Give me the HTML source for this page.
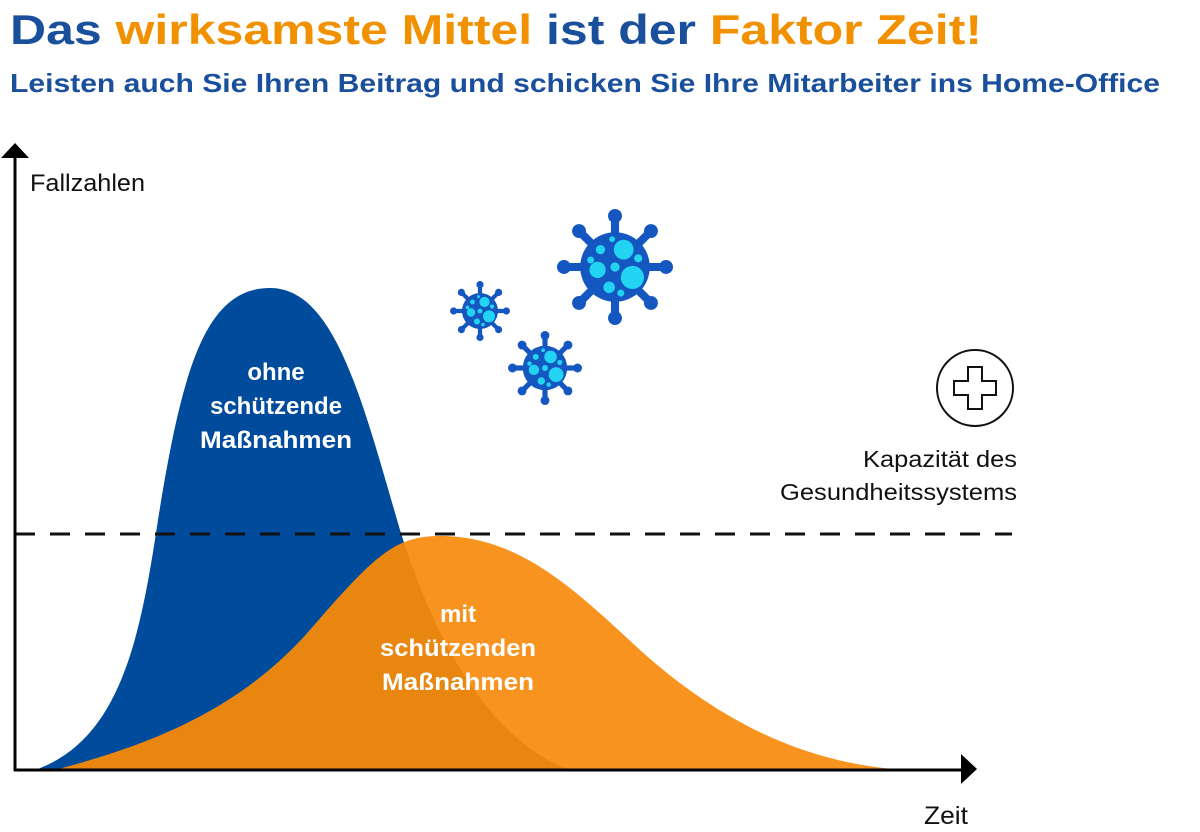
<!DOCTYPE html>
<html><head><meta charset="utf-8"><style>
html,body{margin:0;padding:0;background:#fff;width:1200px;height:832px;overflow:hidden}
svg{display:block}
</style></head><body>
<svg width="1200" height="832" viewBox="0 0 1200 832" xmlns="http://www.w3.org/2000/svg" font-family="'Liberation Sans', sans-serif">
<defs>
<symbol id="v" viewBox="-1 -1 2 2" overflow="visible">
<g fill="#1557C0" stroke="#1557C0">
<g stroke-width="0.14" stroke-linecap="round">
<line x1="0" y1="0" x2="0" y2="-0.86"/>
<line x1="0" y1="0" x2="0.61" y2="-0.61"/>
<line x1="0" y1="0" x2="0.86" y2="0"/>
<line x1="0" y1="0" x2="0.61" y2="0.61"/>
<line x1="0" y1="0" x2="0" y2="0.86"/>
<line x1="0" y1="0" x2="-0.61" y2="0.61"/>
<line x1="0" y1="0" x2="-0.86" y2="0"/>
<line x1="0" y1="0" x2="-0.61" y2="-0.61"/>
</g>
<g stroke="none">
<circle r="0.6"/>
<circle cx="0" cy="-0.88" r="0.12"/><circle cx="0.62" cy="-0.62" r="0.12"/>
<circle cx="0.88" cy="0" r="0.12"/><circle cx="0.62" cy="0.62" r="0.12"/>
<circle cx="0" cy="0.88" r="0.12"/><circle cx="-0.62" cy="0.62" r="0.12"/>
<circle cx="-0.88" cy="0" r="0.12"/><circle cx="-0.62" cy="-0.62" r="0.12"/>
</g>
</g>
<g fill="#22D4F2">
<circle cx="0.15" cy="-0.3" r="0.17"/><circle cx="0.3" cy="0.18" r="0.2"/>
<circle cx="-0.3" cy="0.05" r="0.14"/><circle cx="-0.1" cy="0.35" r="0.1"/>
<circle cx="-0.25" cy="-0.3" r="0.08"/><circle cx="0.0" cy="0.0" r="0.08"/>
<circle cx="0.4" cy="-0.15" r="0.07"/><circle cx="-0.42" cy="-0.12" r="0.06"/>
<circle cx="0.1" cy="0.45" r="0.06"/><circle cx="-0.05" cy="-0.48" r="0.05"/>
</g>
</symbol>
<clipPath id="bc"><path d="M35,770 C120,740 140,640 158,520 C182,370 205,288 270,288 C335,288 362,400 400,530 C440,660 500,745 570,770 Z"/></clipPath>
</defs>

<text x="10" y="44" font-size="42" font-weight="bold" textLength="972" lengthAdjust="spacingAndGlyphs"><tspan fill="#1A4F9C">Das </tspan><tspan fill="#F29100">wirksamste Mittel </tspan><tspan fill="#1A4F9C">ist der </tspan><tspan fill="#F29100">Faktor Zeit!</tspan></text>
<text x="10" y="92" font-size="26" font-weight="bold" fill="#1A4F9C" textLength="1150" lengthAdjust="spacingAndGlyphs">Leisten auch Sie Ihren Beitrag und schicken Sie Ihre Mitarbeiter ins Home-Office</text>

<path d="M35,770 C120,740 140,640 158,520 C182,370 205,288 270,288 C335,288 362,400 400,530 C440,660 500,745 570,770 Z" fill="#004B9C"/>
<path d="M55,770 C150,745 240,710 310,630 C375,555 395,536 440,536 C520,536 575,590 640,650 C740,740 830,765 905,770 Z" fill="#F7931E"/>
<path clip-path="url(#bc)" d="M55,770 C150,745 240,710 310,630 C375,555 395,536 440,536 C520,536 575,590 640,650 C740,740 830,765 905,770 Z" fill="#E8860F"/>

<line x1="15" y1="534" x2="1012" y2="534" stroke="#111" stroke-width="3" stroke-dasharray="20,15"/>

<line x1="15" y1="155" x2="15" y2="771" stroke="#000" stroke-width="3"/>
<polygon points="15,143 1,158 29,158" fill="#000"/>
<line x1="14" y1="770" x2="963" y2="770" stroke="#000" stroke-width="3"/>
<polygon points="977,769 961,754 961,784" fill="#000"/>

<text x="30" y="191" font-size="24" fill="#111" textLength="115" lengthAdjust="spacingAndGlyphs">Fallzahlen</text>
<text x="924" y="824" font-size="25" fill="#111" textLength="44" lengthAdjust="spacingAndGlyphs">Zeit</text>

<g font-size="24" font-weight="bold" fill="#fff" text-anchor="middle">
<text x="276" y="380">ohne</text>
<text x="276" y="414">schützende</text>
<text x="276" y="448" textLength="152" lengthAdjust="spacingAndGlyphs">Maßnahmen</text>
<text x="458" y="622">mit</text>
<text x="458" y="656" textLength="156" lengthAdjust="spacingAndGlyphs">schützenden</text>
<text x="458" y="690" textLength="152" lengthAdjust="spacingAndGlyphs">Maßnahmen</text>
</g>

<text x="1017" y="467" font-size="23" fill="#111" text-anchor="end" textLength="154" lengthAdjust="spacingAndGlyphs">Kapazität des</text>
<text x="1017" y="500" font-size="23" fill="#111" text-anchor="end" textLength="237" lengthAdjust="spacingAndGlyphs">Gesundheitssystems</text>

<circle cx="975" cy="388" r="38" fill="none" stroke="#111" stroke-width="2"/>
<path d="M968,367 h14 v14 h14 v14 h-14 v14 h-14 v-14 h-14 v-14 h14 Z" fill="none" stroke="#111" stroke-width="2"/>

<use href="#v" x="557" y="209" width="116" height="116"/>
<use href="#v" x="450" y="281" width="60" height="60"/>
<use href="#v" x="508" y="331" width="74" height="74"/>
</svg>
</body></html>
